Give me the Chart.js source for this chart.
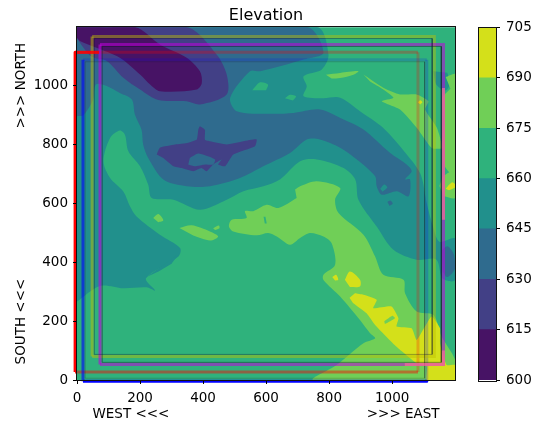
<!DOCTYPE html>
<html><head><meta charset="utf-8">
<script src="https://cdn.jsdelivr.net/npm/chart.js@4"></script>
<style>html,body{margin:0;padding:0;background:#fff}canvas{position:absolute;top:0}</style>
</head><body>
<canvas id="map" width="540" height="425" style="left:0"></canvas>
<canvas id="bar" width="70" height="425" style="left:470px"></canvas>
<script>
// colour levels
const levels=[600,615,630,645,660,675,690,705];
const levelColors=['#471365','#424086','#2f6b8e','#21908c','#2fb27c','#70cf57','#d4e01a'];
// contour regions in map units (x east, y north)
const plotBox=[[0,0],[0,1200],[1200,1200],[1200,0]];
const teal=[[0,1200],[761,1200],[798,1107],[777,1056],[719,1033],[729,999],[719,965],[780,958],[835,960],[898,914],[972,857],[1047,766],[1090,700],[1110,600],[1130,520],[1150,470],[1200,480],[1200,340],[1160,345],[1140,410],[1078,409],[1004,443],[951,522],[893,613],[883,682],[846,721],[761,750],[708,744],[644,682],[591,659],[528,642],[475,613],[390,579],[306,613],[237,619],[226,664],[200,727],[163,778],[152,834],[136,848],[105,823],[84,744],[105,687],[147,641],[168,591],[189,556],[263,494],[327,449],[322,420],[219,346],[248,304],[221,315],[147,312],[73,320],[0,267]];
const tealEast=[[1131,1050],[1140,1005],[1170,985],[1184,1010],[1175,1045]];
const tealStreak=[[221,350],[322,428],[300,395],[260,370]];
const greenSpeckA=[[556,985],[581,1012],[606,1005],[600,985]];
const greenSpeckB=[[660,958],[676,970],[695,965],[685,950]];
const blue=[[0,1200],[730,1200],[782,1113],[719,1090],[581,1050],[549,1050],[486,960],[507,914],[613,905],[687,908],[771,920],[846,886],[909,852],[994,772],[1047,732],[1062,710],[1041,682],[1057,682],[1052,625],[1015,642],[967,630],[951,659],[946,693],[888,750],[835,790],[771,818],[729,818],[676,772],[591,727],[517,687],[422,659],[348,659],[274,682],[226,755],[210,800],[205,850],[184,902],[174,954],[136,976],[94,1000],[60,1005],[50,950],[20,900],[0,897]];
const blueEast=[[1157,440],[1175,455],[1195,430],[1200,380],[1175,350],[1160,370]];
const blueSpeck=[[985,605],[994,610],[1002,600],[992,592]];
const tealSpeck=[[962,650],[975,665],[985,655],[970,640]];
const indigo=[[0,1200],[348,1200],[443,1107],[475,1039],[475,971],[390,937],[348,948],[258,952],[200,988],[147,1028],[94,1085],[45,1100],[0,1160]];
const purple=[[0,1200],[184,1200],[263,1141],[348,1096],[390,1050],[396,1010],[380,988],[263,982],[232,1005],[200,1039],[136,1096],[62,1130],[9,1153],[0,1164]];
const indigoCentral=[[253,767],[263,790],[311,801],[353,807],[380,818],[385,852],[390,863],[406,851],[406,817],[422,812],[475,801],[528,812],[570,818],[565,795],[496,767],[470,727],[448,733],[459,750],[432,733],[411,710],[395,721],[369,710],[332,721],[306,727],[274,755]];
const blueHole=[[358,755],[385,770],[438,750],[432,733],[406,733],[374,727],[353,733]];
const lightCentral=[[692,648],[708,659],[761,676],[835,653],[819,613],[830,568],[909,494],[946,420],[972,358],[1036,341],[1041,295],[1078,233],[1131,221],[1157,148],[1200,68],[1200,0],[750,0],[824,51],[909,125],[946,142],[930,159],[898,204],[835,284],[782,340],[782,358],[819,392],[808,465],[782,488],[739,500],[708,483],[676,460],[634,488],[607,500],[570,492],[496,505],[482,523],[491,545],[538,551],[533,574],[559,574],[602,596],[639,585],[697,619]];
const lightBlob=[[325,517],[364,526],[422,505],[448,488],[422,474],[369,491]];
const lightSpeck=[[242,551],[258,564],[274,543],[258,536]];
const lightSpeck2=[[432,516],[450,525],[452,516],[438,510]];
const lightStrip=[[790,1038],[835,1044],[893,1050],[877,1038],[835,1027],[808,1025]];
const lightNorthEast=[[909,1039],[972,994],[1025,971],[1078,971],[1115,948],[1105,920],[1142,858],[1158,789],[1126,789],[1078,858],[1025,920],[967,948],[1004,960],[972,988],[930,1015]];
const lightEast=[[1170,1030],[1200,1040],[1200,690],[1165,730],[1160,800],[1165,880],[1160,960],[1185,990]];
const lightEast2=[[1150,660],[1165,695],[1200,710],[1200,620],[1165,625]];
const greenNotch=[[592,555],[598,555],[602,532],[596,532]];
const yellowMain=[[882,295],[909,290],[951,273],[940,244],[998,250],[1020,210],[1014,182],[1062,176],[1078,136],[1125,216],[1152,176],[1152,125],[1173,51],[1200,51],[1200,0],[1110,0],[1110,46],[1078,57],[1014,113],[946,187],[919,227],[877,261],[865,280]];
const lightStreak=[[977,190],[1009,210],[1000,218],[975,200]];
const yellowBlob=[[850,341],[866,369],[898,341],[898,318],[866,316]];
const yellowSpeck=[[810,350],[822,358],[829,341],[819,338]];
const yellowNE=[[1082,944],[1089,951],[1096,944],[1089,937]];
const yellowEast=[[1170,650],[1190,672],[1200,665],[1200,655],[1180,645]];
// outlined boxes: west, east, south, north edges in map units
const redBox=[-6,1082,27,1114];
const blueBox=[19,1110,-4,1089];
const oliveBox=[48,1134,80,1168];
const magentaBox=[73,1163,53,1141];
const oliveInner=[55,1127,87,1161];
const magentaInner=[80,1156,60,1134];
const blueInner=[26,1103,6,1082];
const redTopWest=[[-6,1114],[70,1114]];
const pinkRight=[[1163,993],[1163,545]];
const pinkBottom=[[1163,100],[1163,53],[1040,53]];
const xTicks=[0,200,400,600,800,1000];
const yTicks=[0,200,400,600,800,1000];

const pts=a=>a.map(p=>({x:p[0],y:p[1]}));
const boxPts=b=>[[b[0],b[2]],[b[0],b[3]],[b[1],b[3]],[b[1],b[2]],[b[0],b[2]]];
const rgba=(c,a)=>`rgba(${c[0]},${c[1]},${c[2]},${a})`;
const C={g:levelColors[4],t:levelColors[3],b:levelColors[2],i:levelColors[1],p:levelColors[0],l:levelColors[5],y:levelColors[6]};
const regions=[[plotBox,C.g,0],[teal,C.t,.3],[tealEast,C.t,.3],[tealStreak,C.t,0],[greenSpeckA,C.g,.3],[greenSpeckB,C.g,.3],[blue,C.b,.3],[blueEast,C.b,.3],[blueSpeck,C.b,.3],[tealSpeck,C.t,.3],[indigo,C.i,.3],[purple,C.p,.3],[indigoCentral,C.i,.15],[blueHole,C.b,.2],[lightCentral,C.l,.3],[lightBlob,C.l,.3],[lightSpeck,C.l,.3],[lightSpeck2,C.l,.3],[lightStrip,C.l,.3],[lightNorthEast,C.l,.2],[lightEast,C.l,.2],[lightEast2,C.l,.3],[greenNotch,C.g,0],[yellowMain,C.y,.15],[lightStreak,C.l,.2],[yellowBlob,C.y,.3],[yellowSpeck,C.y,.3],[yellowNE,C.y,.3],[yellowEast,C.y,.3]];
const RED=[255,0,0],BLU=[0,0,255],OLI=[191,191,0],MAG=[191,0,220];
const boxes=[[redBox,RED,[.95,.28,.24,.45]],[blueBox,BLU,[.6,.16,.2,.8]],[oliveBox,OLI,[.5,.45,.45,.45]],[magentaBox,MAG,[.6,.55,.55,.55]]];
const inners=[[oliveInner,.35],[magentaInner,.45],[blueInner,.2]];

const ds=[];
// solid strokes first: only the parts beyond the plot area stay visible
boxes.forEach(([b,c])=>ds.push({data:pts(boxPts(b)),showLine:true,pointRadius:0,borderWidth:3,borderColor:rgba(c,1),borderJoinStyle:'round',fill:false,clip:false}));
regions.forEach(([r,c,t])=>ds.push({data:pts(r),showLine:true,pointRadius:0,borderWidth:0,borderColor:c,backgroundColor:c,fill:'shape',tension:t}));
boxes.forEach(([b,c,al])=>ds.push({data:pts(boxPts(b)),showLine:true,pointRadius:0,borderWidth:3,borderColor:rgba(c,.5),clip:0,fill:false,segment:{borderColor:s=>rgba(c,al[s.p0DataIndex])}}));
inners.forEach(([b,a])=>ds.push({data:pts(boxPts(b)),showLine:true,pointRadius:0,borderWidth:1,borderColor:`rgba(20,20,40,${a})`,clip:0,fill:false}));
[pinkRight,pinkBottom].forEach(l=>ds.push({data:pts(l),showLine:true,pointRadius:0,borderWidth:3,borderColor:'rgba(245,110,150,.7)',clip:0,fill:false}));
ds.push({data:pts(redTopWest),showLine:true,pointRadius:0,borderWidth:3,borderColor:'rgba(255,0,0,.85)',clip:false,fill:false});
ds.forEach((d,i)=>d.order=ds.length-i);

const FONT={family:'"DejaVu Sans"',size:13.5};
const frame={id:'frame',afterDraw(ch){const a=ch.chartArea,c=ch.ctx;c.save();c.strokeStyle='#111';c.lineWidth=1;c.strokeRect(Math.round(a.left)-.5,Math.round(a.top)-.5,Math.round(a.right-a.left)+1,Math.round(a.bottom-a.top)+1);c.restore();}};
const axis=(title,pad,fit,list,tp)=>({type:'linear',min:0,max:1199.5,
  afterBuildTicks:s=>{s.ticks=list.map(v=>({value:v}))},
  ticks:{autoSkip:false,maxRotation:0,color:'#000',font:FONT,padding:tp,callback:v=>String(v)},
  grid:{drawOnChartArea:false,drawTicks:true,tickLength:4,tickColor:'#000',z:2},
  border:{display:false},
  title:{display:true,text:title,color:'#000',font:FONT,padding:pad},
  afterFit:fit});
new Chart(document.getElementById('map'),{type:'scatter',data:{datasets:ds},plugins:[frame],options:{
  responsive:false,animation:false,
  layout:{padding:{left:0,right:85,top:0,bottom:0}},
  plugins:{legend:{display:false},tooltip:{enabled:false},
    title:{display:true,text:'Elevation',color:'#000',fullSize:false,font:{family:'"DejaVu Sans"',size:16,weight:'normal'},padding:{top:6.5,bottom:1.5}}},
  scales:{
    x:axis('WEST <<<'+' '.repeat(46)+'>>> EAST',{top:0,bottom:2},s=>{s.height=45},xTicks,6),
    y:axis('SOUTH <<<'+' '.repeat(35)+'>>> NORTH',{top:13.5,bottom:0},s=>{s.width=77},yTicks,5)
  }}});

const barDs=levelColors.map((c,i)=>({data:[[levels[i],levels[i+1]]],backgroundColor:c,borderWidth:0,barPercentage:1,categoryPercentage:1,grouped:false}));
new Chart(document.getElementById('bar'),{type:'bar',data:{labels:['elevation'],datasets:barDs},plugins:[frame],options:{
  responsive:false,animation:false,
  layout:{padding:{left:9,right:0,top:27.5,bottom:45}},
  plugins:{legend:{display:false},tooltip:{enabled:false},title:{display:false}},
  scales:{
    x:{display:false},
    y:{position:'right',type:'linear',min:levels[0],max:levels[levels.length-1],
      ticks:{stepSize:15,autoSkip:false,color:'#000',font:FONT,padding:6},
      grid:{drawOnChartArea:false,drawTicks:true,tickLength:4,tickColor:'#000'},
      border:{display:false},
      afterFit:s=>{s.width=44}}
  }}});
</script>
</body></html>
